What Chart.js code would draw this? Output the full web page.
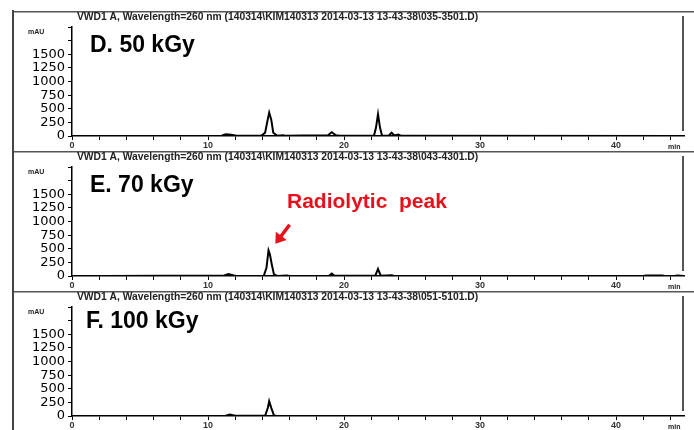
<!DOCTYPE html>
<html>
<head>
<meta charset="utf-8">
<script src="https://cdn.jsdelivr.net/npm/chart.js@4/dist/chart.umd.min.js"></script>
<style>
  html, body { margin: 0; padding: 0; background: #fff; overflow: hidden; }
  #wrap { position: relative; width: 694px; height: 430px; }
  .panel { position: absolute; left: 0; width: 694px; height: 140px; }
  #leftLine { position: absolute; left: 12px; top: 10px; width: 2px; height: 420px; background: #444; }
</style>
</head>
<body>
<div id="wrap">
  <div class="panel" style="top:11px"><canvas id="chartD" width="694" height="140"></canvas></div>
  <div class="panel" style="top:151px"><canvas id="chartE" width="694" height="140"></canvas></div>
  <div class="panel" style="top:291px"><canvas id="chartF" width="694" height="140"></canvas></div>
  <div id="leftLine"></div>
</div>
<script>
// retention time (min) and absorbance (mAU)
const timesD  = [2, 11.0, 11.3, 11.7, 12.1, 13.9, 14.2, 14.35, 14.5, 14.65, 14.8, 15.1, 15.5, 15.7, 17.0, 18.8, 19.1, 19.4, 19.7, 22.2, 22.35, 22.5, 22.65, 22.8, 23.3, 23.5, 23.7, 24.0, 24.2, 45];
const valuesD = [0, 5, 30, 25, 5, 3, 60, 250, 430, 300, 60, 5, 15, 3, 8, 10, 70, 15, 3, 3, 150, 400, 150, 5, 10, 60, 10, 25, 3, 0];

const timesE  = [2.5, 11.2, 11.5, 11.9, 12.1, 14.1, 14.3, 14.45, 14.55, 14.7, 14.85, 15.1, 15.8, 16.0, 18.9, 19.1, 19.3, 22.3, 22.5, 22.7, 23.5, 23.7, 29.8, 42.0, 42.2, 43.4, 43.6, 44.3, 44.5, 45];
const valuesE = [0, 10, 35, 10, 0, 5, 150, 470, 400, 200, 30, 0, 8, 0, 5, 45, 5, 5, 130, 5, 15, 0, 0, 0, 10, 10, 0, 0, 8, 0];

const timesF  = [4, 11.3, 11.6, 12.0, 14.2, 14.4, 14.5, 14.65, 14.85, 15.1, 24];
const valuesF = [0, 5, 25, 5, 5, 150, 270, 150, 10, 0, 0];

const xTicks = [0, 2, 4, 6, 8, 10, 12, 14, 16, 18, 20, 22, 24, 26, 28, 30, 32, 34, 36, 38, 40, 42, 44];
const yTicks = [0, 250, 500, 750, 1000, 1250, 1500, 1750, 2000];
const yLabelled = [0, 250, 500, 750, 1000, 1250, 1500];

function makePanel(id, times, values, label, fileTag, extra) {
  const pts = times.map((t, i) => ({ x: t, y: values[i] }));

  const overlay = {
    id: 'overlay_' + id,
    afterDraw(chart) {
      const ctx = chart.ctx;
      const area = chart.chartArea;
      ctx.save();
      // frame lines
      ctx.strokeStyle = '#555';
      ctx.lineWidth = 1.5;
      ctx.beginPath();
      ctx.moveTo(12, 0.75); ctx.lineTo(694, 0.75);
      ctx.stroke();
      ctx.lineWidth = 2;
      ctx.beginPath();
      ctx.moveTo(683, 5); ctx.lineTo(683, area.bottom - 5);
      ctx.stroke();

      // file header
      ctx.fillStyle = '#222';
      ctx.font = 'bold 10.3px "Liberation Sans", Arial, sans-serif';
      ctx.textBaseline = 'middle';
      ctx.textAlign = 'left';
      const head = 'VWD1 A, Wavelength=260 nm (140314\\KIM140313 2014-03-13 13-43-38\\' + fileTag + '.D)';
      ctx.fillText(head, 77, 6, 404);

      // mAU unit
      ctx.font = 'bold 7px "Liberation Sans", Arial, sans-serif';
      ctx.fillText('mAU', 28, 21);
      // min unit
      ctx.fillText('min', 668, 136);

      // panel label
      ctx.fillStyle = '#000';
      ctx.font = 'bold 23px "Liberation Sans", Arial, sans-serif';
      ctx.textBaseline = 'alphabetic';
      ctx.fillText(label, extra.labelX, extra.labelY);

      if (extra.annotate) {
        const xs = chart.scales.x, ys = chart.scales.y;
        ctx.fillStyle = '#e8101a';
        ctx.strokeStyle = '#e8101a';
        ctx.font = 'bold 21px "Liberation Sans", Arial, sans-serif';
        ctx.fillText('Radiolytic  peak', 287, 57);
        const x1 = xs.getPixelForValue(16.0), y1 = ys.getPixelForValue(940);
        const x2 = xs.getPixelForValue(14.95), y2 = ys.getPixelForValue(590);
        const ang = Math.atan2(y2 - y1, x2 - x1);
        ctx.lineWidth = 3.5;
        ctx.beginPath();
        ctx.moveTo(x1, y1);
        ctx.lineTo(x2 - 6 * Math.cos(ang), y2 - 6 * Math.sin(ang));
        ctx.stroke();
        ctx.beginPath();
        ctx.moveTo(x2, y2);
        ctx.lineTo(x2 - 12 * Math.cos(ang - 0.6), y2 - 12 * Math.sin(ang - 0.6));
        ctx.lineTo(x2 - 12 * Math.cos(ang + 0.6), y2 - 12 * Math.sin(ang + 0.6));
        ctx.closePath();
        ctx.fill();
      }
      ctx.restore();
    }
  };

  return new Chart(document.getElementById(id), {
    type: 'line',
    data: {
      datasets: [{
        data: pts,
        borderColor: '#000',
        borderWidth: 2,
        pointRadius: 0,
        tension: 0,
        fill: false
      }]
    },
    options: {
      responsive: false,
      animation: false,
      events: [],
      layout: { padding: { top: 16, right: 10, left: 0, bottom: 0 } },
      plugins: { legend: { display: false }, tooltip: { enabled: false } },
      scales: {
        x: {
          type: 'linear',
          min: 0,
          max: 45,
          afterBuildTicks: s => { s.ticks = xTicks.map(v => ({ value: v })); },
          afterFit: s => { s.height = 15; },
          ticks: {
            autoSkip: false,
            maxRotation: 0,
            padding: 0,
            color: '#333',
            font: { family: '"Liberation Sans", Arial, sans-serif', size: 9, weight: 'bold' },
            callback: v => (v % 10 === 0 ? String(v) : '')
          },
          grid: { drawOnChartArea: false, tickLength: 4, color: '#000', lineWidth: 1 },
          border: { color: '#000', width: 1.5 }
        },
        y: {
          min: 0,
          max: 2000,
          afterBuildTicks: s => { s.ticks = yTicks.map(v => ({ value: v })); },
          afterFit: s => { s.width = 72; },
          ticks: {
            autoSkip: false,
            padding: 3,
            color: '#000',
            font: { family: '"DejaVu Sans", Verdana, sans-serif', size: 13 },
            callback: v => (yLabelled.includes(v) ? String(v) : '')
          },
          grid: { drawOnChartArea: false, tickLength: 4, color: '#000', lineWidth: 1 },
          border: { color: '#000', width: 1.5 }
        }
      }
    },
    plugins: [overlay]
  });
}

makePanel('chartD', timesD, valuesD, 'D. 50 kGy', '035-3501', { labelX: 90, labelY: 41 });
makePanel('chartE', timesE, valuesE, 'E. 70 kGy', '043-4301', { labelX: 90, labelY: 41, annotate: true });
makePanel('chartF', timesF, valuesF, 'F. 100 kGy', '051-5101', { labelX: 86, labelY: 37 });
</script>
</body>
</html>
